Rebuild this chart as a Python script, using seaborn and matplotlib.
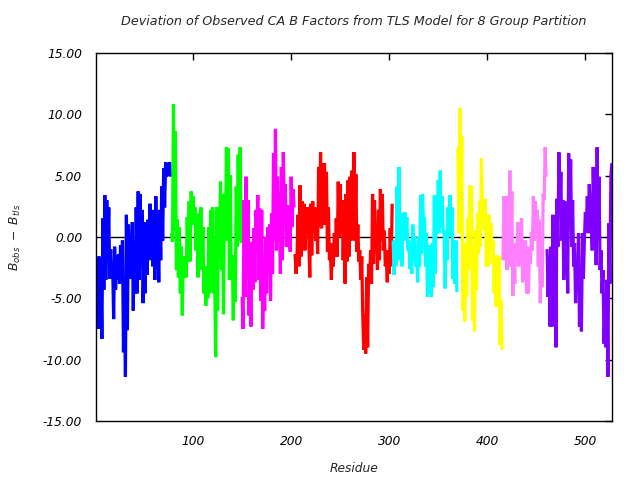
import matplotlib
matplotlib.use("Agg")
import matplotlib.pyplot as plt
import seaborn as sns
import pandas as pd
import numpy as np

# ---- data ----
group_names = ["g1", "g2", "g3", "g4", "g5", "g6", "g7", "g8"]
group_colors = ["#0000ff", "#00ff00", "#ff00ff", "#ff0000",
                "#00ffff", "#ffff00", "#ff80ff", "#8000ff"]
group_start = [1, 78, 150, 204, 304, 370, 416, 461]

blue = [-6.5, -3.4, -7.5, -1.6, -6.2, -3.0, -8.3, 1.5, -4.3, 3.4, -3.5, 3.0, -1.9, 2.4, -3.4,
        -1.0, -3.3, -2.4, -6.7, -0.8, -4.3, -1.5, -3.5, -1.4, -3.8, -0.7, -3.7, -0.3, -9.4, -3.5,
        -11.4, 1.8, -7.6, 1.0, -1.9, -1.6, -3.4, 1.2, -6.0, -0.4, -4.6, 2.4, -4.6, 3.7, -3.5,
        3.5, -2.3, 2.2, -5.4, -1.2, -4.6, 1.2, -3.1, 1.4, -1.9, 2.7, -1.1, 2.2, -2.4, 1.4,
        -3.5, 3.3, -1.4, 0.4, -3.7, 2.2, -1.9, 4.1, -0.3, 5.6, 2.4, 6.1, 4.9, 6.0, 5.0, 6.1, 4.9]
green = [0.3, -0.4, 10.8, 0.5, 8.6, -2.7, 1.4, -3.3, 0.8, -4.6, -0.8, -6.4, -1.6, -3.3, -1.6,
         -3.3, 1.6, -2.0, 2.9, -2.0, 3.7, 2.2, 3.3, 1.0, 2.4, -1.1, 1.9, -3.3, 1.4, -0.8,
         2.4, -2.7, 0.8, -4.6, -3.0, -5.6, -2.4, -5.0, 0.8, -4.6, 2.2, -4.3, 2.4, -4.6, -3.0,
         -9.8, 2.4, -6.0, 2.4, -0.3, 4.5, -2.7, 3.5, -6.3, 3.5, 0.0, 7.3, -0.3, 7.2, -3.5,
         5.0, -3.5, -1.5, -6.8, -1.5, -5.3, 4.1, -0.8, 6.7, -0.3, 7.3, -0.5]
magenta = [-4.9, -7.5, 3.0, -4.9, 4.9, -2.4, 3.0, -6.4, -2.7, -7.3, -0.4, -4.3, 0.7, -3.7, 2.2,
           -0.5, 3.4, -3.5, 2.3, -5.2, 2.2, -7.5, -2.3, -6.0, 0.0, -4.6, 0.8, -1.9, 1.0, -5.2,
           1.9, -3.0, 6.8, -0.3, 8.8, -1.1, 4.9, 1.9, 1.9, -3.0, 5.7, -1.9, 6.9, 2.7, 4.3,
           -0.8, 2.6, -0.8, 2.4, -1.2, 4.9, 0.8, 3.9, 2.4]
red = [-1.4, -3.0, -1.5, 1.8, -2.4, 4.2, -1.6, 2.9, 0.5, 2.7, -1.1, 2.4, 0.5, 2.4, -0.3,
       -3.3, 2.7, -1.5, 2.9, 0.5, 2.4, -0.3, 1.5, -1.4, 5.7, 0.8, 6.9, 0.7, 6.0, 1.0,
       6.0, 1.0, 5.3, -1.2, 2.4, -1.9, -1.1, -3.5, -0.5, -2.4, 0.3, -1.6, 1.5, -1.6, 4.5,
       0.0, 4.3, 1.0, 3.0, -1.9, 1.2, -3.8, 3.5, -2.0, 4.6, -1.6, 4.9, -0.3, 5.4, 1.1,
       6.9, -0.3, 5.1, -1.2, 1.0, -2.0, -1.1, -3.5, -1.6, -6.3, -9.2, -6.3, -9.5, -3.3, -9.0,
       -2.2, -3.8, -1.1, -3.8, 3.5, -2.2, 3.0, -1.1, 0.3, -2.7, 2.2, -1.9, 3.9, -0.3, 3.5,
       -1.1, 0.5, -2.4, -1.6, -3.7, -1.1, -3.0, 0.7, -2.4, 2.7]
cyan = [-0.3, -3.1, -0.3, -2.4, 4.1, -1.9, 5.7, 0.0, 1.1, -2.4, 1.9, -0.3, 2.0, 0.3, 1.6,
        -1.1, -0.3, -2.6, -0.8, -3.0, 1.0, -0.5, 0.0, -2.4, -1.1, -3.7, 0.0, -2.4, 3.4, -1.4,
        3.5, 0.8, 1.6, -2.4, 0.3, -4.9, -0.7, -4.6, -0.7, -4.9, -0.5, -4.1, 3.4, -3.0, 3.4,
        0.3, 4.6, 0.3, 5.4, 0.8, 3.3, 0.3, 0.5, -4.2, -0.3, -1.9, 2.4, 0.0, 3.4, 0.3,
        2.4, -3.4, -0.3, -3.8, -0.3, -4.5]
yellow = [7.3, 0.3, 10.5, 0.3, 8.2, -6.0, -0.5, -6.9, -0.7, -4.9, 1.5, -2.7, 4.2, -1.9, 4.1,
          -6.8, -2.7, -7.7, 0.5, -4.3, 1.9, -1.4, 2.9, -0.8, 6.4, 2.4, 3.0, 0.5, 3.1, -2.4,
          1.6, -2.4, 1.8, -0.8, 1.1, -2.2, -0.3, -4.6, -1.9, -5.7, -1.5, -5.4, -1.6, -8.8, -5.2,
          -9.2]
pink = [-1.9, 3.3, -1.9, 3.3, -2.7, 3.3, -0.8, 5.4, -2.4, 3.7, -4.8, -1.6, -3.8, -0.5, -1.9,
        1.2, -2.4, 1.1, -2.2, 1.5, -3.7, -0.3, -3.5, -0.3, -4.6, -0.8, -4.6, -1.1, -2.2, 0.4,
        -1.1, 3.3, -0.3, 2.9, 0.3, 2.2, -2.4, 1.4, -5.4, -1.1, -4.1, 3.5, 3.0, 7.3, 4.9]
purple = [-1.0, -4.9, -1.6, -7.3, -0.8, -7.3, 1.8, -5.2, 0.8, -9.0, 3.1, -0.8, 6.9, 1.9, 5.3,
          -0.3, 3.0, -3.5, 2.9, -3.0, 0.8, -4.6, 6.8, 1.9, 6.3, -0.8, 3.0, -2.4, -0.5, -5.4,
          -1.9, -4.3, 0.3, -7.3, -2.4, -7.7, 0.3, -3.4, -0.3, 2.0, 1.0, 3.3, 0.3, 4.3, 1.4,
          1.6, -1.1, 5.7, 1.9, 5.6, -2.3, 7.3, -0.3, 4.9, -2.7, -1.1, -4.6, -2.7, -8.7, -6.0,
          -9.0, -3.5, -11.4, 1.1, -3.8, 4.9, 6.0]

series = [blue, green, magenta, red, cyan, yellow, pink, purple]

x_ticks = [100, 200, 300, 400, 500]
y_ticks = [-15, -10, -5, 0, 5, 10, 15]

title = "Deviation of Observed CA B Factors from TLS Model for 8 Group Partition"
xlabel = "Residue"
ylabel = r"$B_{obs}\ -\ B_{tls}$"

# ---- build table ----
rows = []
for name, start, vals in zip(group_names, group_start, series):
    for i, v in enumerate(vals):
        rows.append({"residue": start + i, "value": v, "group": name})
df = pd.DataFrame(rows)

# ---- style ----
sns.set_style("white")
plt.rcParams["font.family"] = ["DejaVu Sans"]
plt.rcParams["font.style"] = "italic"
plt.rcParams["mathtext.fontset"] = "dejavusans"

fig = plt.figure(figsize=(6.4, 4.8), dpi=100)
ax = fig.add_axes([0.15, 0.123, 0.806, 0.767])

ax.axhline(0, color="black", lw=1.0, zorder=1)
sns.lineplot(data=df, x="residue", y="value", hue="group",
             palette=dict(zip(group_names, group_colors)),
             estimator=None, sort=False, lw=2.3, legend=False, ax=ax, zorder=2,
             solid_joinstyle="bevel", solid_capstyle="butt")

ax.set_xlim(1, 527)
ax.set_ylim(-15, 15)
ax.set_xticks(x_ticks)
ax.set_yticks(y_ticks)
ax.set_yticklabels([f"{t:.2f}" for t in y_ticks])
ax.tick_params(direction="in", length=5, width=1, top=True, right=True,
               labelsize=8.8, pad=10, colors="black")
for lab in ax.get_xticklabels() + ax.get_yticklabels():
    lab.set_fontstyle("italic")
for sp in ax.spines.values():
    sp.set_visible(True)
    sp.set_color("black")
    sp.set_linewidth(1.0)

ax.set_title(title, fontsize=9.2, style="italic", pad=20)
ax.set_xlabel(xlabel, fontsize=8.8, style="italic", labelpad=10)
ax.set_ylabel(ylabel, fontsize=8.8, labelpad=14)

fig.savefig("out.png", dpi=100)
